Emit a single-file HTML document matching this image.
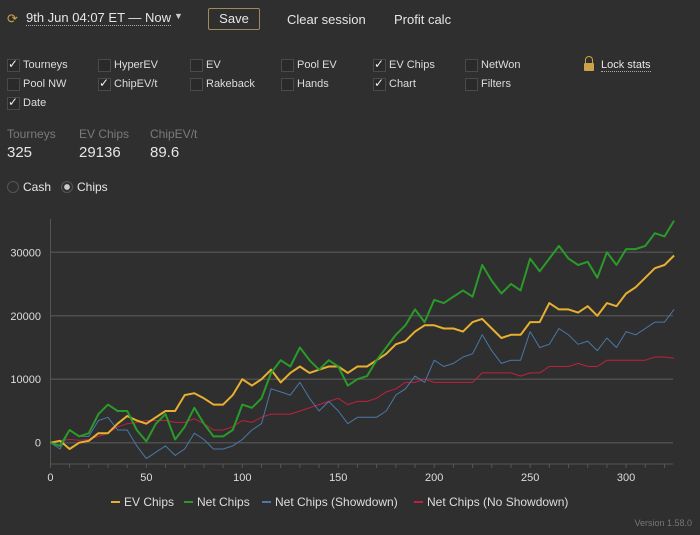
<!DOCTYPE html>
<html><head><meta charset="utf-8"><style>
body{margin:0;width:700px;height:535px;background:#2f2f2f;font-family:"Liberation Sans",sans-serif;color:#e6e6e6;position:relative;overflow:hidden}
.a{position:absolute;white-space:nowrap}
.cb{position:absolute;font-size:11px;color:#ddd;height:14px;line-height:13px;padding-left:16px}
.cb::before{content:"";position:absolute;left:0;top:0;width:11px;height:11px;border:1px solid #4a4a4a;background:#2a2a2a}
.cb.on::after{content:"✓";position:absolute;left:1px;top:-1px;font-size:12px;color:#eee}
.lbl{font-size:12px;color:#7a7a7a}
.val{font-size:15px;color:#e6e6e6}
</style></head><body>
<div class="a" style="left:7px;top:11px;font-size:13px;color:#c9a24a">⟳</div>
<div class="a" style="left:26px;top:10px;font-size:13px;border-bottom:1px dotted #aaa">9th Jun 04:07 ET — Now</div>
<div class="a" style="left:174px;top:11px;font-size:9px;color:#ccc">▼</div>
<div class="a" style="left:208px;top:8px;width:50px;height:20px;border:1px solid #a08a5a;border-radius:2px;font-size:13px;text-align:center;line-height:20px">Save</div>
<div class="a" style="left:287px;top:12px;font-size:13px">Clear session</div>
<div class="a" style="left:394px;top:12px;font-size:13px">Profit calc</div>

<div class="cb on" style="left:7px;top:59px">Tourneys</div>
<div class="cb" style="left:98px;top:59px">HyperEV</div>
<div class="cb" style="left:190px;top:59px">EV</div>
<div class="cb" style="left:281px;top:59px">Pool EV</div>
<div class="cb on" style="left:373px;top:59px">EV Chips</div>
<div class="cb" style="left:465px;top:59px">NetWon</div>
<div class="a" style="left:584px;top:56px;width:10px;height:8px;margin-top:7px;background:#c9a24a;border-radius:1px"></div>
<div class="a" style="left:585px;top:56px;width:6px;height:6px;border:1px solid #c9a24a;border-bottom:none;border-radius:4px 4px 0 0"></div>
<div class="a" style="left:601px;top:59px;font-size:11px;border-bottom:1px dotted #aaa">Lock stats</div>
<div class="cb" style="left:7px;top:78px">Pool NW</div>
<div class="cb on" style="left:98px;top:78px">ChipEV/t</div>
<div class="cb" style="left:190px;top:78px">Rakeback</div>
<div class="cb" style="left:281px;top:78px">Hands</div>
<div class="cb on" style="left:373px;top:78px">Chart</div>
<div class="cb" style="left:465px;top:78px">Filters</div>
<div class="cb on" style="left:7px;top:97px">Date</div>

<div class="a lbl" style="left:7px;top:127px">Tourneys</div>
<div class="a val" style="left:7px;top:144px">325</div>
<div class="a lbl" style="left:79px;top:127px">EV Chips</div>
<div class="a val" style="left:79px;top:144px">29136</div>
<div class="a lbl" style="left:150px;top:127px">ChipEV/t</div>
<div class="a val" style="left:150px;top:144px">89.6</div>

<div class="a" style="left:7px;top:180px;font-size:12px"><span style="display:inline-block;width:10px;height:10px;border:1px solid #555;border-radius:50%;vertical-align:-2px;margin-right:4px"></span>Cash</div>
<div class="a" style="left:61px;top:180px;font-size:12px"><span style="display:inline-block;width:10px;height:10px;border:1px solid #555;border-radius:50%;vertical-align:-2px;margin-right:4px;background:radial-gradient(#ccc 35%,#2f2f2f 45%)"></span>Chips</div>

<svg class="a" style="left:0;top:0" width="700" height="535" id="chart"></svg>
<div class="a" style="right:8px;top:518px;font-size:9px;color:#777">Version 1.58.0</div>
<script>
const xs=[0,5,10,15,20,25,30,35,40,45,50,55,60,65,70,75,80,85,90,95,100,105,110,115,120,125,130,135,140,145,150,155,160,165,170,175,180,185,190,195,200,205,210,215,220,225,230,235,240,245,250,255,260,265,270,275,280,285,290,295,300,305,310,315,320,325];
const evChips=[0,0.3,-1,0,0.3,1.5,1.5,3,4.2,3.5,3,4,5,5,7.5,7.8,7,6,6,7.5,10,9,10,11.5,9.5,11,12,11,11.5,12,12,11,12,12,13,14,15.5,16,17.5,18.5,18.5,18,18,17.5,19,19.5,18,16.5,17,17,19,19,22,21,21,20.5,21.5,20,22,21.5,23.5,24.5,26,27.5,28,29.5];
const netChips=[0,-0.5,2,1,1.5,4.5,6,5,5,2,0.2,3,4.5,0.5,2.5,5.5,3,1,1,2,6,5.5,7,11,13,12,15,13,11.5,13,12,9,10,10.5,13,15,17,18.5,21,19,22.5,22,23,24,23,28,25.5,23.5,25,24,29,27,29,31,29,28,28.5,26,30,28,30.5,30.5,31,33,32.5,35];
const showdown=[0,-1,2,1,1,3.5,4,2,2,-0.5,-2.5,-1.5,-0.5,-2,-1,1.5,0.5,-1,-1,-0.5,0.5,2,3,8.5,8,7.5,9.5,7,5,6.5,5,3,4,4,4,5,7.5,8.5,10.5,9.5,13,12,12.5,13.5,14,17,14.5,12.5,13,13,17.5,15,15.5,18,17,15.5,16,14.5,16.5,15,17.5,17,18,19,19,21];
const noShowdown=[0,0.3,0.5,0.4,0.5,1,1.5,2.5,3,3.2,3.5,3.5,3.5,3.2,3.2,3.8,3,2,2,2.5,3.5,3.2,4,4.5,4.5,4.5,5,5.5,6,6.5,7,6,6.5,6.5,7,8,8.5,9.5,9.5,10,9.5,9.5,9.5,9.5,9.5,11,11,11,11,10.5,11,11,12,12,12,12.5,12,12,13,13,13,13,13,13.5,13.5,13.3];
const xTicks=[0,50,100,150,200,250,300];
const yTicks=[0,10000,20000,30000];
const seriesNames=["EV Chips","Net Chips","Net Chips (Showdown)","Net Chips (No Showdown)"];
const seriesColors=["#e8b030","#2a9a2a","#4a78a8","#c02040"];
const svg=document.getElementById('chart');const NS="http://www.w3.org/2000/svg";
const X=v=>50.4+v*1.919;const Y=v=>442.7-v*0.006347;
function mk(t,a){const e=document.createElementNS(NS,t);for(const k in a)e.setAttribute(k,a[k]);svg.appendChild(e);return e;}
yTicks.forEach(t=>{const g=mk('line',{x1:50,x2:673,y1:Y(t),y2:Y(t),stroke:'#4e4e4e','stroke-width':1.5});


const l=mk('text',{x:41,y:Y(t)+4,'text-anchor':'end','font-size':11,fill:'#ddd','font-family':'Liberation Sans'});l.textContent=t;

});
const ax=mk('line',{x1:50.5,x2:50.5,y1:219,y2:464,stroke:'#555'});


const bx=mk('line',{x1:50,x2:673,y1:464,y2:464,stroke:'#555'});


for(let t=0;t<=320;t+=10){const k=mk('line',{x1:X(t),x2:X(t),y1:464,y2:468,stroke:'#555'});

}
xTicks.forEach(t=>{const l=mk('text',{x:X(t),y:481,'text-anchor':'middle','font-size':11,fill:'#ddd','font-family':'Liberation Sans'});l.textContent=t;

});
const all=[evChips,netChips,showdown,noShowdown];const widths=[2,2,1,1];
[3,2,0,1].forEach(i=>{const d=all[i].map((v,j)=>(j?'L':'M')+X(xs[j]).toFixed(1)+','+Y(v*1000).toFixed(1)).join('');
const p=mk('path',{d:d,fill:'none',stroke:seriesColors[i],'stroke-width':widths[i],'stroke-linejoin':'round'});

});
const lx=[111,184,262,414];
seriesNames.forEach((n,i)=>{const m=mk('line',{x1:lx[i],x2:lx[i]+9,y1:502,y2:502,stroke:seriesColors[i],'stroke-width':2});


const t=mk('text',{x:lx[i]+13,y:506,'font-size':12,fill:'#ddd','font-family':'Liberation Sans'});t.textContent=n;

});
</script>
</body></html>
